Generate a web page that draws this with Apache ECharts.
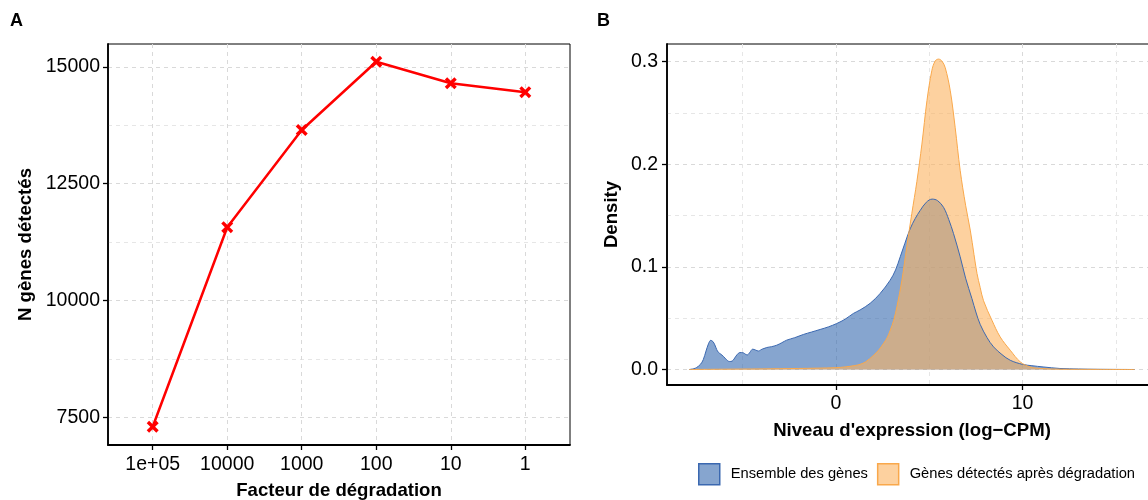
<!DOCTYPE html>
<html><head><meta charset="utf-8">
<script src="https://cdn.jsdelivr.net/npm/echarts@6/dist/echarts.min.js"></script>
<style>html,body{margin:0;padding:0;background:#fff}#c{width:1148px;height:500px}</style>
</head><body><div id="c"></div>
<script>
// ---- Panel A data ----
const factorLabels = ['1e+05', '10000', '1000', '100', '10', '1'];
const genesDetected = [7300, 11570, 13650, 15110, 14650, 14460];
const yTicksA = [7500, 10000, 12500, 15000];
const yMinorA = [8750, 11250, 13750];

// ---- Panel B data (density curves) ----
const allX = [-7.85,-7.6,-7.45,-7.25,-7.1,-6.95,-6.82,-6.7,-6.58,-6.48,-6.38,-6.29,-6.15,-6.02,-5.85,-5.7,-5.55,-5.45,-5.3,-5.13,-4.95,-4.85,-4.74,-4.6,-4.45,-4.3,-4.15,-3.95,-3.7,-3.45,-3.16,-2.9,-2.63,-2.2,-1.74,-1.3,-0.84,-0.4,0.05,0.5,0.94,1.3,1.84,2.37,2.91,3.2,3.45,3.7,3.98,4.25,4.52,4.85,5.16,5.45,5.77,6.05,6.3,6.66,6.95,7.29,7.5,7.73,8.1,8.45,8.9,9.34,10.0,10.5,11.1,12.0,13.0,14.0,16.0];
const allY = [0,0.0008,0.002,0.005,0.0095,0.018,0.025,0.0284,0.0272,0.024,0.0195,0.0168,0.0148,0.0128,0.0095,0.0078,0.0082,0.0102,0.0142,0.0165,0.0162,0.015,0.0142,0.0168,0.0198,0.019,0.018,0.0198,0.0214,0.0222,0.0237,0.026,0.0286,0.031,0.0341,0.0365,0.039,0.0415,0.0448,0.049,0.0546,0.058,0.0645,0.074,0.087,0.097,0.1098,0.123,0.137,0.147,0.155,0.163,0.166,0.1645,0.158,0.146,0.1326,0.1098,0.089,0.069,0.056,0.044,0.031,0.022,0.0145,0.009,0.005,0.0037,0.0025,0.001,0.0005,0.0002,0];
const degX = [-7.85,-6,-4,-2,-1,0,0.5,1.0,1.3,1.6,2.0,2.3,2.55,2.75,2.91,3.1,3.27,3.54,3.8,4.07,4.34,4.61,4.88,5.14,5.32,5.5,5.68,5.86,6.13,6.39,6.66,6.95,7.2,7.4,7.56,7.73,7.91,8.36,8.8,9.34,9.88,10.4,11.0,12.0,14.0,16.0];
const degY = [0,0.0003,0.0006,0.001,0.0013,0.0018,0.0025,0.0038,0.005,0.0075,0.0135,0.019,0.0253,0.031,0.038,0.048,0.061,0.087,0.1195,0.152,0.183,0.2196,0.2618,0.291,0.3005,0.3024,0.3005,0.294,0.2715,0.236,0.194,0.16,0.1358,0.112,0.0936,0.08,0.067,0.048,0.0318,0.0188,0.0074,0.0025,0.001,0.0003,0.0001,0];
const xTicksB = [0, 10];
const xMinorB = [-5, 5, 15];
const yTicksB = [0, 0.1, 0.2, 0.3];
const yMinorB = [0.05, 0.15, 0.25];
const seriesNames = ['Ensemble des gènes', 'Gènes détectés après dégradation'];

const FONT = "'Liberation Sans', Arial, Helvetica, sans-serif";
const gridLine = { show: true, lineStyle: { color: '#d9d9d9', width: 1, type: [4, 4] } };
const minorLine = { show: true, lineStyle: { color: '#e6e6e6', width: 1, type: [4, 4] } };
const axLine = { show: true, onZero: false, lineStyle: { color: '#000', width: 1.8 } };
const tick = (vals) => ({ show: true, length: 5, lineStyle: { color: '#000', width: 1.3 }, customValues: vals });
const lbl = { color: '#000', fontSize: 19.5, fontFamily: FONT };
const nameStyle = { color: '#000', fontSize: 18.6, fontWeight: 'bold', fontFamily: FONT };
const hidden = (vals) => ({ axisLine: { show: false, onZero: false }, axisLabel: { show: false }, axisTick: { show: false, customValues: vals } });

const blueBase = '#3569AF', blueLine = '#3B68B0';
const orangeBase = '#FCB25F', orangeLine = '#F9A84B';

const option = {
  animation: false,
  textStyle: { fontFamily: FONT },
  grid: [
    { left: 108, top: 44, width: 462, height: 401, show: true, borderColor: '#000', borderWidth: 1, containLabel: false, outerBoundsMode: 'none' },
    { left: 667, top: 44, width: 490, height: 341, show: true, borderColor: '#000', borderWidth: 1, containLabel: false, outerBoundsMode: 'none' }
  ],
  xAxis: [
    { type: 'value', gridIndex: 0, min: -0.6, max: 5.6, axisLine: axLine, axisTick: tick([0,1,2,3,4,5]),
      axisLabel: Object.assign({ margin: 10, customValues: [0,1,2,3,4,5], formatter: v => factorLabels[Math.round(v)] }, lbl),
      splitLine: gridLine, name: 'Facteur de dégradation', nameLocation: 'middle', nameGap: 36, nameTextStyle: nameStyle },
    { type: 'value', gridIndex: 1, min: -9.04, max: 17.2, axisLine: axLine, axisTick: tick(xTicksB),
      axisLabel: Object.assign({ margin: 9, customValues: xTicksB, formatter: v => String(v) }, lbl),
      splitLine: gridLine, name: "Niveau d'expression (log\u2212CPM)", nameLocation: 'middle', nameGap: 36, nameTextStyle: nameStyle },
    Object.assign({ type: 'value', gridIndex: 1, min: -9.04, max: 17.2, splitLine: minorLine }, hidden(xMinorB))
  ],
  yAxis: [
    { type: 'value', gridIndex: 0, min: 6910, max: 15490, axisLine: axLine, axisTick: tick(yTicksA),
      axisLabel: Object.assign({ margin: 8, customValues: yTicksA, formatter: v => String(v) }, lbl),
      splitLine: gridLine, name: 'N gènes détectés', nameLocation: 'middle', nameGap: 73, nameTextStyle: nameStyle },
    Object.assign({ type: 'value', gridIndex: 0, min: 6910, max: 15490, splitLine: minorLine }, hidden(yMinorA)),
    { type: 'value', gridIndex: 1, min: -0.0151, max: 0.3171, axisLine: axLine, axisTick: tick(yTicksB),
      axisLabel: Object.assign({ margin: 9, customValues: yTicksB, formatter: v => v.toFixed(1) }, lbl),
      splitLine: gridLine, name: 'Density', nameLocation: 'middle', nameGap: 46, nameTextStyle: nameStyle },
    Object.assign({ type: 'value', gridIndex: 1, min: -0.0151, max: 0.3171, splitLine: minorLine }, hidden(yMinorB))
  ],
  legend: {
    left: 698, top: 463, padding: 0, itemWidth: 21, itemHeight: 21, itemGap: 9,
    textStyle: { fontSize: 14.7, color: '#000', fontFamily: FONT, padding: [2, 0, 0, 6] },
    data: [
      { name: seriesNames[0], icon: 'rect', itemStyle: { color: 'rgba(53,105,175,0.6)', borderColor: blueLine, borderWidth: 1.5 } },
      { name: seriesNames[1], icon: 'rect', itemStyle: { color: 'rgba(252,178,95,0.6)', borderColor: orangeLine, borderWidth: 1.5 } }
    ]
  },
  graphic: [
    { type: 'text', left: 10, top: 12, style: { text: 'A', font: "bold 18px " + FONT, fill: '#000' } },
    { type: 'text', left: 597, top: 12, style: { text: 'B', font: "bold 18px " + FONT, fill: '#000' } }
  ],
  series: [
    { type: 'line', name: 'Genes', xAxisIndex: 0, yAxisIndex: 0,
      data: genesDetected.map((v, i) => [i, v]),
      lineStyle: { color: '#FF0000', width: 2.5 }, itemStyle: { color: '#FF0000' },
      symbol: 'path://M0,2L2,0L5,3L8,0L10,2L7,5L10,8L8,10L5,7L2,10L0,8L3,5Z', symbolSize: 12, showSymbol: true },
    { type: 'line', name: seriesNames[0], xAxisIndex: 1, yAxisIndex: 2,
      data: allX.map((x, i) => [x, allY[i]]), smooth: 0.35, showSymbol: false,
      lineStyle: { color: blueLine, width: 1 }, itemStyle: { color: blueLine }, areaStyle: { color: blueBase, opacity: 0.6 } },
    { type: 'line', name: seriesNames[1], xAxisIndex: 1, yAxisIndex: 2,
      data: degX.map((x, i) => [x, degY[i]]), smooth: 0.35, showSymbol: false,
      lineStyle: { color: orangeLine, width: 1 }, itemStyle: { color: orangeLine }, areaStyle: { color: orangeBase, opacity: 0.6 } }
  ]
};
const chart = echarts.init(document.getElementById('c'), null, { renderer: 'canvas' });
chart.setOption(option);
</script>
</body></html>
